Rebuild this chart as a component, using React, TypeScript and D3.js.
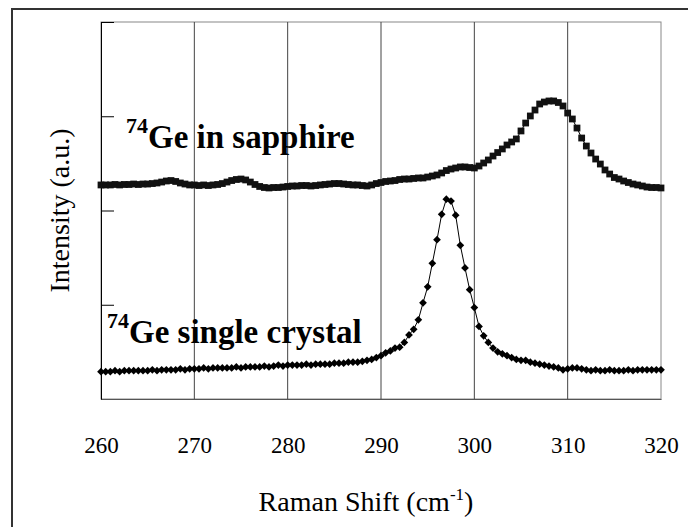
import React, { useEffect, useRef } from 'react';
import * as d3 from 'd3';

// Raman shift grid (cm-1), sampled every 0.5
const ramanShift = d3.range(260, 320.25, 0.5);

// 74Ge single crystal (a.u.)
const singleCrystal = [
  0.29, 0.29, 0.29, 0.30, 0.29, 0.30, 0.30, 0.30, 0.30, 0.30, 0.30, 0.31, 0.30, 0.31, 0.31, 0.31, 0.31, 0.32, 0.31, 0.32, 0.32,
  0.32, 0.33, 0.32, 0.33, 0.33, 0.33, 0.33, 0.33, 0.34, 0.33, 0.34, 0.34, 0.34, 0.34, 0.35, 0.34, 0.35, 0.36, 0.35, 0.36,
  0.36, 0.36, 0.36, 0.37, 0.36, 0.37, 0.37, 0.37, 0.37, 0.38, 0.38, 0.38, 0.39, 0.39, 0.39, 0.40, 0.41, 0.42, 0.44, 0.46,
  0.49, 0.51, 0.54, 0.55, 0.60, 0.68, 0.74, 0.84, 1.02, 1.19, 1.44, 1.69, 1.96, 2.12, 2.10, 1.95, 1.63, 1.39, 1.16, 0.97,
  0.77, 0.67, 0.60, 0.54, 0.50, 0.48, 0.46, 0.44, 0.42, 0.41, 0.41, 0.39, 0.38, 0.37, 0.36, 0.35, 0.34, 0.33, 0.31, 0.32,
  0.33, 0.33, 0.32, 0.31, 0.30, 0.31, 0.30, 0.30, 0.31, 0.30, 0.30, 0.30, 0.31, 0.30, 0.31, 0.31, 0.31, 0.31, 0.31, 0.31,
];

// 74Ge in sapphire (a.u.)
const inSapphire = [
  2.271, 2.271, 2.271, 2.276, 2.271, 2.276, 2.276, 2.281, 2.276, 2.281, 2.281, 2.286, 2.292, 2.302, 2.313, 2.318, 2.308, 2.292, 2.281, 2.271, 2.271,
  2.265, 2.271, 2.265, 2.271, 2.276, 2.286, 2.302, 2.318, 2.329, 2.334, 2.324, 2.302, 2.276, 2.255, 2.244, 2.239, 2.244, 2.244, 2.249, 2.255,
  2.260, 2.260, 2.265, 2.265, 2.260, 2.265, 2.271, 2.276, 2.281, 2.286, 2.286, 2.281, 2.276, 2.271, 2.271, 2.265, 2.260, 2.271, 2.286, 2.297,
  2.308, 2.313, 2.318, 2.329, 2.334, 2.334, 2.340, 2.345, 2.345, 2.355, 2.366, 2.377, 2.398, 2.424, 2.440, 2.451, 2.462, 2.462, 2.456, 2.451,
  2.472, 2.504, 2.536, 2.578, 2.615, 2.653, 2.695, 2.727, 2.759, 2.844, 2.928, 3.003, 3.066, 3.130, 3.151, 3.162, 3.162, 3.146, 3.109, 3.034,
  2.971, 2.875, 2.769, 2.684, 2.610, 2.546, 2.493, 2.430, 2.387, 2.350, 2.334, 2.313, 2.297, 2.281, 2.271, 2.260, 2.249, 2.244, 2.244, 2.239,
];

const xTicks = [260, 270, 280, 290, 300, 310, 320];
const yTicks = [0, 1, 2, 3, 4];

const FONT = 'Liberation Serif, Times New Roman, Times, DejaVu Serif, serif';

function App() {
  const ref = useRef<SVGSVGElement>(null);

  useEffect(() => {
    if (!ref.current) return;
    const width = 688;
    const height = 527;
    const margin = { top: 22, right: 27, bottom: 128, left: 101 };

    const svg = d3.select(ref.current)
      .attr('font-family', FONT);
    svg.selectAll('*').remove();

    const x = d3.scaleLinear().domain([260, 320]).range([margin.left, width - margin.right]);
    const y = d3.scaleLinear().domain([0, 4]).range([height - margin.bottom, margin.top]);

    // outer frame (cut off at right/bottom like the source)
    svg.append('rect')
      .attr('x', 12).attr('y', 9)
      .attr('width', 700).attr('height', 540)
      .attr('fill', 'none').attr('stroke', '#333').attr('stroke-width', 2);

    // plot frame
    svg.append('rect')
      .attr('x', x(260)).attr('y', y(4))
      .attr('width', x(320) - x(260)).attr('height', y(0) - y(4))
      .attr('fill', 'none').attr('stroke', '#888').attr('stroke-width', 1);

    // vertical gridlines
    svg.append('g')
      .selectAll('line')
      .data(xTicks.slice(1, -1))
      .join('line')
      .attr('x1', d => x(d)).attr('x2', d => x(d))
      .attr('y1', y(0)).attr('y2', y(4))
      .attr('stroke', '#444').attr('stroke-width', 1);

    // left axis with inner ticks, no labels
    svg.append('g')
      .attr('transform', `translate(${x(260)},0)`)
      .call(d3.axisRight(y).tickValues(yTicks).tickSize(13).tickFormat(() => '').tickSizeOuter(0))
      .call(g => g.select('.domain').attr('stroke', '#000'))
      .call(g => g.selectAll('.tick line').attr('stroke', '#000'));

    // bottom axis labels
    svg.append('g')
      .attr('transform', `translate(0,${y(0)})`)
      .call(d3.axisBottom(x).tickValues(xTicks).tickSize(0).tickPadding(38))
      .attr('font-family', FONT)
      .attr('font-size', 23)
      .call(g => g.select('.domain').attr('stroke', '#555'))
      .selectAll('text')
      .attr('fill', '#000');

    const line = d3.line<number>()
      .x((_, i) => x(ramanShift[i]))
      .y(d => y(d));

    // sapphire: squares
    svg.append('path')
      .attr('d', line(inSapphire))
      .attr('fill', 'none').attr('stroke', '#000').attr('stroke-width', 1);
    svg.append('g')
      .selectAll('path')
      .data(inSapphire)
      .join('path')
      .attr('transform', (d, i) => `translate(${x(ramanShift[i])},${y(d)})`)
      .attr('d', d3.symbol(d3.symbolSquare, 46)())
      .attr('fill', '#111');

    // single crystal: diamonds
    svg.append('path')
      .attr('d', line(singleCrystal))
      .attr('fill', 'none').attr('stroke', '#000').attr('stroke-width', 1);
    svg.append('g')
      .selectAll('path')
      .data(singleCrystal)
      .join('path')
      .attr('transform', (d, i) => `translate(${x(ramanShift[i])},${y(d)}) rotate(45)`)
      .attr('d', d3.symbol(d3.symbolSquare, 30)())
      .attr('fill', '#000');

    // annotations
    const label = (lx: number, ly: number, txt: string) => {
      const t = svg.append('text')
        .attr('x', lx).attr('y', ly)
        .attr('font-weight', 'bold');
      t.append('tspan').attr('font-size', 22).attr('dy', -15).text('74');
      t.append('tspan').attr('font-size', 33).attr('dy', 15).text(txt);
    };
    label(126, 148, 'Ge in sapphire');
    label(107, 343, 'Ge single crystal');

    // axis titles
    const xt = svg.append('text')
      .attr('x', 366).attr('y', 511)
      .attr('text-anchor', 'middle')
      .attr('font-size', 28);
    xt.append('tspan').text('Raman Shift (cm');
    xt.append('tspan').attr('font-size', 17).attr('dy', -11).text('-1');
    xt.append('tspan').attr('dy', 11).text(')');

    svg.append('text')
      .attr('transform', `translate(69,${(y(0) + y(4)) / 2}) rotate(-90)`)
      .attr('text-anchor', 'middle')
      .attr('font-size', 28)
      .text('Intensity (a.u.)');
  }, []);

  return (
    <svg
      ref={ref}
      width={688}
      height={527}
      style={{ position: 'absolute', left: 0, top: 0, background: '#fff' }}
    />
  );
}

export default App;
